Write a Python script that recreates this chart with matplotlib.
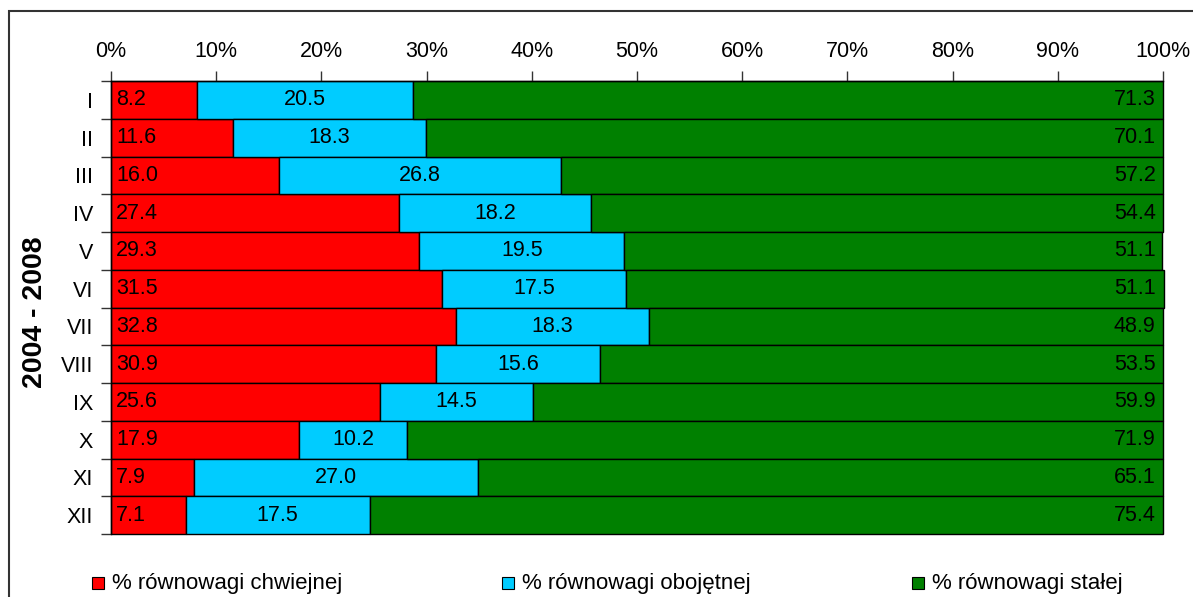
import matplotlib
matplotlib.use("Agg")
import matplotlib.pyplot as plt
from matplotlib.patches import Rectangle
from matplotlib.ticker import FixedLocator
import numpy as np

months = ["I", "II", "III", "IV", "V", "VI", "VII", "VIII", "IX", "X", "XI", "XII"]
chwiejnej = [8.2, 11.6, 16.0, 27.4, 29.3, 31.5, 32.8, 30.9, 25.6, 17.9, 7.9, 7.1]
obojetnej = [20.5, 18.3, 26.8, 18.2, 19.5, 17.5, 18.3, 15.6, 14.5, 10.2, 27.0, 17.5]
stalej = [71.3, 70.1, 57.2, 54.4, 51.1, 51.1, 48.9, 53.5, 59.9, 71.9, 65.1, 75.4]
series_names = ["% równowagi chwiejnej", "% równowagi obojętnej", "% równowagi stałej"]
colors = ["#FF0000", "#00CCFF", "#008000"]
x_ticks = [0, 10, 20, 30, 40, 50, 60, 70, 80, 90, 100]

plt.rcParams["font.family"] = ["Liberation Sans", "DejaVu Sans"]
FS = 15.5

W, H = 1193, 597
fig = plt.figure(figsize=(W / 100, H / 100), dpi=100)
ax = fig.add_axes([111 / W, 1 - 534 / H, (1163 - 111) / W, (534 - 81) / H])

y = np.arange(len(months))
red = np.array(chwiejnej)
blue = np.array(obojetnej)
green = np.array(stalej)

bar_kw = dict(height=1.0, edgecolor="black", linewidth=1.0, clip_on=False)
ax.barh(y, red, color=colors[0], **bar_kw)
ax.barh(y, blue, left=red, color=colors[1], **bar_kw)
ax.barh(y, green, left=red + blue, color=colors[2], **bar_kw)

for i in range(len(months)):
    ax.text(0.5, y[i], f"{red[i]:.1f}", ha="left", va="center", fontsize=FS)
    ax.text(red[i] + blue[i] / 2, y[i], f"{blue[i]:.1f}", ha="center", va="center", fontsize=FS)
    ax.text(99.3, y[i], f"{green[i]:.1f}", ha="right", va="center", fontsize=FS)

ax.set_xlim(0, 100)
ax.set_ylim(len(months) - 0.5, -0.5)

ax.xaxis.tick_top()
ax.set_xticks(x_ticks)
ax.set_xticklabels([f"{t}%" for t in x_ticks], fontsize=FS)
ax.tick_params(axis="x", direction="out", length=7, width=1, pad=7, color="#333333")

ax.set_yticks(y)
ax.set_yticklabels(months, fontsize=FS, family=["Liberation Sans Narrow", "Liberation Sans"])
ax.yaxis.set_minor_locator(FixedLocator(np.arange(-0.5, len(months), 1.0)))
ax.tick_params(axis="y", which="major", length=0, pad=13)
ax.tick_params(axis="y", which="minor", direction="out", length=7, width=1, color="#333333")

for side in ["right", "bottom"]:
    ax.spines[side].set_visible(False)
for side in ["left", "top"]:
    ax.spines[side].set_linewidth(1.0)

fig.text(35 / W, 1 - 312 / H, "2004 - 2008", rotation=90, ha="center", va="center",
         fontsize=20.5, fontweight="bold")

# legend entries along the bottom
leg_y = 583
for name, col, x0 in zip(series_names, colors, [92, 502, 912]):
    fig.patches.append(Rectangle((x0 / W, 1 - (leg_y + 6) / H), 12 / W, 12 / H,
                                 transform=fig.transFigure, facecolor=col,
                                 edgecolor="black", linewidth=0.8))
    fig.text((x0 + 20) / W, 1 - leg_y / H, name, ha="left", va="center", fontsize=16)

# outer frame
fig.patches.append(Rectangle((9 / W, -0.2), 1.2, 1 - 11 / H + 0.2, transform=fig.transFigure,
                             fill=False, edgecolor="#333333", linewidth=1.5, clip_on=False))

fig.savefig("out.png", dpi=100)
